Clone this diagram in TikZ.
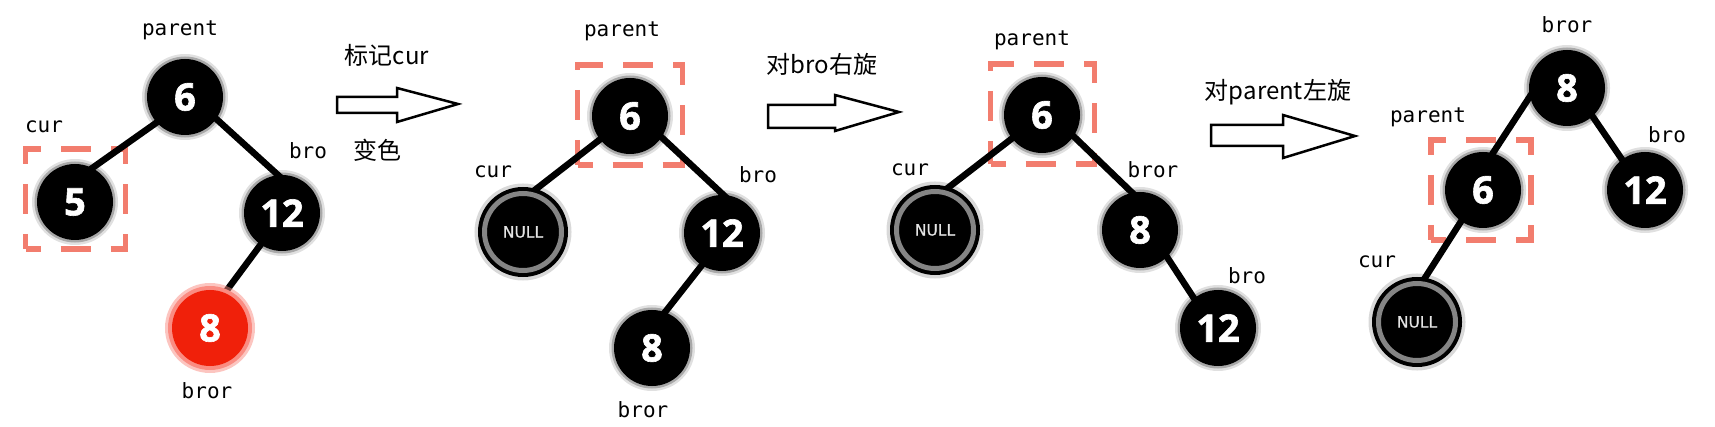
\documentclass[tikz,border=0pt]{standalone}
\usepackage{fontspec}
\newfontfamily\monof{DejaVu Sans Mono}
\newfontfamily\numf{Open Sans}[BoldFeatures={FakeBold=1.6}]
\newfontfamily\cjkf{Noto Sans CJK SC}
\newfontfamily\nullf{DejaVu Sans}[FakeBold=0.5]
\definecolor{boxc}{RGB}{242,125,110}
\definecolor{redn}{RGB}{240,32,10}
\definecolor{redglow}{RGB}{250,140,130}
\pgfdeclarelayer{bgA}
\pgfdeclarelayer{bgB}
\pgfsetlayers{bgA,bgB,main}
\tikzset{
  bn/.style={circle, fill=black, text=white, minimum size=76pt, inner sep=0pt,
    font=\numf\bfseries\fontsize{38}{42}\selectfont,
    preaction={draw=black, draw opacity=0.12, line width=10pt},
    preaction={draw=black, draw opacity=0.25, line width=5pt}},
  rn/.style={circle, fill=redn, text=white, minimum size=76pt, inner sep=0pt,
    font=\numf\bfseries\fontsize{38}{42}\selectfont,
    preaction={draw=redglow, draw opacity=0.5, line width=14pt},
    preaction={draw=redglow, line width=8pt}},
  nulln/.style={circle, fill=black, minimum size=77pt, inner sep=0pt,
    draw=black!48, line width=5pt, text=black!10,
    font=\nullf\fontsize{15.5}{18}\selectfont,
    preaction={draw=black, draw opacity=0.15, line width=20pt},
    preaction={draw=black, line width=13pt}},
  lab/.style={anchor=base, inner sep=0pt, font=\monof\fontsize{21}{24}\selectfont},
  cn/.style={anchor=center, inner sep=0pt, font=\cjkf\fontsize{24}{28}\selectfont},
  selbox/.style={draw=boxc, line width=5.5pt, dash pattern=on 30pt off 20pt,
    dash phase=15pt, minimum width=100pt, minimum height=100pt, inner sep=0pt},
  edge/.style={line width=6.5pt, shorten <=-6pt, shorten >=-6pt},
  blk/.style={draw=black, fill=white, line width=2.5pt, line join=miter}
}
\begin{document}
\begin{tikzpicture}[x=1pt,y=-1pt]
\useasboundingbox (0,0) rectangle (1715,427);

% ---------- tree 1 ----------
\node[bn] (a6) at (185,97) {6};
\node[bn] (a5) at (75,202) {5};
\node[bn] (a12) at (282,213) {12};
\node[rn] (a8) at (210,328) {8};
\node[lab] (la1) at (180,36) {parent};
\node[lab] (la2) at (44,133) {cur};
\node[lab] (la3) at (308,159) {bro};
\node[lab] (la4) at (207,398) {bror};
\begin{pgfonlayer}{bgA}
\node[selbox] (boxa) at (75.5,199) {};
\end{pgfonlayer}
\begin{pgfonlayer}{bgB}
\draw[edge] (a6.222) -- (a5.63);
\draw[edge] (a6.325) -- (a12.96);
\draw[edge] (a12.236) -- (a8.67);
\end{pgfonlayer}

% arrow 1
\draw[blk] (337,97) -- (397,97) -- (397,88) -- (458,104) -- (397,122) -- (397,113) -- (337,113) -- cycle;
\node[cn] (t1) at (387,55) {标记cur};
\node[cn] (t2) at (377,150) {变色};

% ---------- tree 2 ----------
\node[bn] (b6) at (630,116) {6};
\node[nulln] (bN) at (523,232) {NULL};
\node[bn] (b12) at (722,233) {12};
\node[bn] (b8) at (652,348) {8};
\node[lab] (lb1) at (622,37) {parent};
\node[lab] (lb2) at (493,178) {cur};
\node[lab] (lb3) at (758,183) {bro};
\node[lab] (lb4) at (643,417) {bror};
\begin{pgfonlayer}{bgA}
\node[selbox, minimum width=105pt] (boxb) at (630,115) {};
\end{pgfonlayer}
\begin{pgfonlayer}{bgB}
\draw[edge] (b6.218) -- (bN.77);
\draw[edge] (b6.326) -- (b12.88);
\draw[edge] (b12.238) -- (b8.70);
\end{pgfonlayer}

% arrow 2
\draw[blk] (768,105) -- (835,105) -- (835,95) -- (899,112) -- (835,131) -- (835,128) -- (768,128) -- cycle;
\node[cn] (t3) at (822,64) {对bro右旋};

% ---------- tree 3 ----------
\node[bn] (c6) at (1042,115) {6};
\node[nulln] (cN) at (935,230) {NULL};
\node[bn] (c8) at (1140,230) {8};
\node[bn] (c12) at (1218,328) {12};
\node[lab] (lc1) at (1032,46) {parent};
\node[lab] (lc2) at (910,176) {cur};
\node[lab] (lc3) at (1153,178) {bror};
\node[lab] (lc4) at (1247,284) {bro};
\begin{pgfonlayer}{bgA}
\node[selbox, minimum width=104pt] (boxc) at (1042.5,114) {};
\end{pgfonlayer}
\begin{pgfonlayer}{bgB}
\draw[edge] (c6.218) -- (cN.76);
\draw[edge] (c6.326) -- (c8.102);
\draw[edge] (c8.315) -- (c12.129);
\end{pgfonlayer}

% arrow 3
\draw[blk] (1211,125) -- (1283,125) -- (1283,115) -- (1355,136) -- (1283,158) -- (1283,146) -- (1211,146) -- cycle;
\node[cn] (t4) at (1278,92) {对parent左旋};

% ---------- tree 4 ----------
\node[bn] (d8) at (1567,88) {8};
\node[bn] (d6) at (1483,190) {6};
\node[bn] (d12) at (1645,190) {12};
\node[nulln] (dN) at (1417,322) {NULL};
\node[lab] (ld1) at (1567,33) {bror};
\node[lab] (ld2) at (1428,123) {parent};
\node[lab] (ld3) at (1667,143) {bro};
\node[lab] (ld4) at (1377,268) {cur};
\begin{pgfonlayer}{bgA}
\node[selbox] (boxd) at (1481,190) {};
\end{pgfonlayer}
\begin{pgfonlayer}{bgB}
\draw[edge] (d8.193) -- (d6.75);
\draw[edge] (d8.312) -- (d12.127);
\draw[edge] (d6.235) -- (dN.82);
\end{pgfonlayer}
\end{tikzpicture}
\end{document}
